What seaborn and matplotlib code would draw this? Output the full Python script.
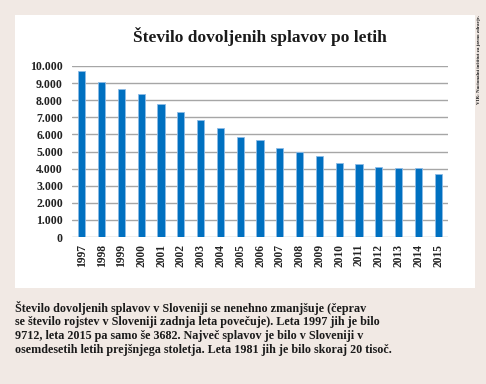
import matplotlib.pyplot as plt
import matplotlib.patches as mpatches
import pandas as pd
import seaborn as sns

years = ["1997", "1998", "1999", "2000", "2001", "2002", "2003", "2004", "2005", "2006",
         "2007", "2008", "2009", "2010", "2011", "2012", "2013", "2014", "2015"]
splavi = [9712, 9080, 8650, 8380, 7770, 7300, 6840, 6370, 5840, 5650,
          5190, 4980, 4730, 4330, 4290, 4120, 4020, 4030, 3682]
yticks = [0, 1000, 2000, 3000, 4000, 5000, 6000, 7000, 8000, 9000, 10000]
ytick_labels = ["0", "1.000", "2.000", "3.000", "4.000", "5.000", "6.000",
                "7.000", "8.000", "9.000", "10.000"]

title = "Število dovoljenih splavov po letih"
caption = ["Število dovoljenih splavov v Sloveniji se nenehno zmanjšuje (čeprav",
           "se število rojstev v Sloveniji zadnja leta povečuje). Leta 1997 jih je bilo",
           "9712, leta 2015 pa samo še 3682. Največ splavov je bilo v Sloveniji v",
           "osemdesetih letih prejšnjega stoletja. Leta 1981 jih je bilo skoraj 20 tisoč."]
source = "VIR: Nacionalni inštitut za javno zdravje."

data = pd.DataFrame({"leto": years, "splavi": splavi})

sns.set_style("white")
plt.rcParams["font.family"] = ["Liberation Serif", "DejaVu Serif"]

bg = "#f1e9e4"
fig = plt.figure(figsize=(4.86, 3.84), dpi=100, facecolor=bg)

# white panel behind the chart
fig.patches.append(mpatches.Rectangle((15 / 486, 1 - 288 / 384), 460 / 486, 273 / 384,
                                      transform=fig.transFigure, facecolor="white",
                                      edgecolor="none", zorder=-10))

ax = fig.add_axes([72 / 486, 1 - 237 / 384, 376 / 486, 171 / 384])
ax.set_facecolor("white")
sns.barplot(data=data, x="leto", y="splavi", color="#0070c0", width=0.36,
            edgecolor="#8dbbe6", linewidth=0.6, saturation=1, ax=ax, zorder=3)

ax.set_xlim(-0.5, 18.5)
ax.set_ylim(0, 10000)
ax.set_yticks(yticks)
ax.set_yticklabels(ytick_labels, fontsize=8.6, fontweight="bold", color="#222222")
ax.tick_params(axis="x", labelrotation=90, labelsize=8.3, length=0, pad=5, colors="#222222")
ax.tick_params(axis="y", length=0, pad=6.5)
for lab in ax.get_xticklabels():
    lab.set_fontweight("bold")
ax.grid(axis="y", color="#a6a6a6", linewidth=1, zorder=0)
ax.set_xlabel("")
ax.set_ylabel("")
sns.despine(ax=ax, left=True, bottom=True)

fig.text(260 / 486, 1 - 37 / 384, title, ha="center", va="center",
         fontsize=12.5, fontweight="bold", color="#1a1a1a")

for i, line in enumerate(caption):
    fig.text(15 / 486, 1 - (308 + i * 14) / 384, line, ha="left", va="center",
             fontsize=8.7, fontweight="bold", color="#1a1a1a")

fig.text(479 / 486, 1 - 15 / 384, source, rotation=90, ha="center", va="top",
         fontsize=3.6, fontweight="bold", color="#1a1a1a")

fig.savefig("out.png", dpi=100, facecolor=bg)
